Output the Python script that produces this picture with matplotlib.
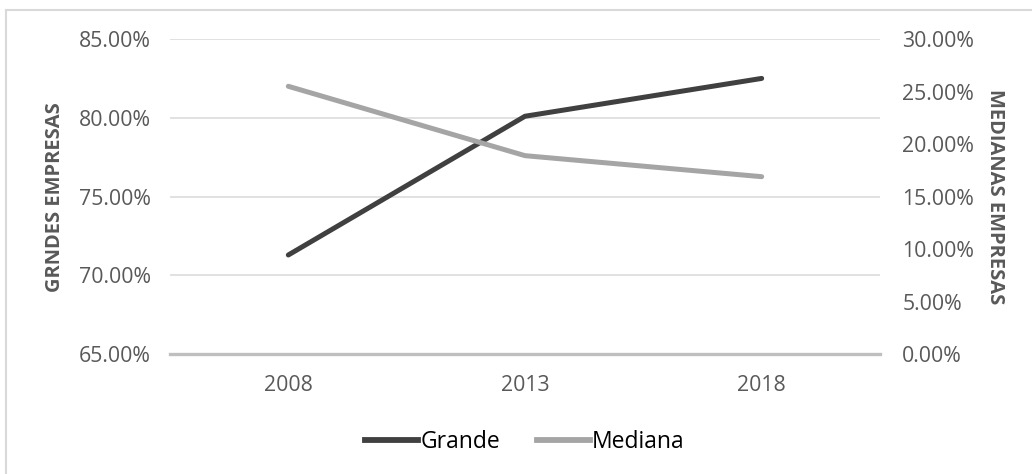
import matplotlib.pyplot as plt
from matplotlib.lines import Line2D
from matplotlib.ticker import PercentFormatter, MultipleLocator

# data
years = ["2008", "2013", "2018"]
grande = [71.3, 80.1, 82.5]      # % grandes empresas (left axis)
mediana = [25.5, 18.9, 16.9]     # % medianas empresas (right axis)

plt.rcParams['font.family'] = ['Open Sans', 'DejaVu Sans']

fig = plt.figure(figsize=(10.32, 4.74), dpi=100)
W, H = 1032, 474
ax = fig.add_axes([170 / W, 1 - 354.3 / H, 710 / W, (354.3 - 39) / H])
ax2 = ax.twinx()

x = range(len(years))
ax.plot(x, grande, color='#404040', lw=3.6, solid_capstyle='round', zorder=3)
ax2.plot(x, mediana, color='#a5a5a5', lw=3.6, solid_capstyle='round', zorder=3)

ax.set_xlim(-0.5, len(years) - 0.5)
ax.set_ylim(65, 85)
ax2.set_ylim(0, 30)
ax.yaxis.set_major_locator(MultipleLocator(5))
ax2.yaxis.set_major_locator(MultipleLocator(5))
ax.yaxis.set_major_formatter(PercentFormatter(decimals=2))
ax2.yaxis.set_major_formatter(PercentFormatter(decimals=2))
ax.set_xticks(list(x))
ax.set_xticklabels(years)

ax.grid(axis='y', color='#d9d9d9', lw=1.1)
ax.set_axisbelow(True)
for a in (ax, ax2):
    for s in a.spines.values():
        s.set_visible(False)
    a.tick_params(length=0, labelsize=15.3, labelcolor='#595959')
ax.tick_params(axis='y', pad=14)
ax2.tick_params(axis='y', pad=16)
ax.tick_params(axis='x', pad=15)
ax.axhline(65, color='#bfbfbf', lw=2.4, zorder=2, clip_on=False)

ax.set_ylabel("GRNDES EMPRESAS", fontsize=14.5, fontweight='bold', color='#595959',
              va='center')
ax2.set_ylabel("MEDIANAS EMPRESAS", fontsize=14.5, fontweight='bold', color='#595959',
               rotation=270, va='center')
ax.yaxis.set_label_coords(-0.162, 0.5)
ax2.yaxis.set_label_coords(1.162, 0.5)

handles = [Line2D([], [], color='#404040', lw=4.2),
           Line2D([], [], color='#a5a5a5', lw=4.2)]
fig.legend(handles, ["Grande", "Mediana"], loc='center', bbox_to_anchor=(525 / W, 1 - 442 / H),
           ncol=2, frameon=False, fontsize=16.5, handlelength=2.3, handletextpad=0.1,
           columnspacing=1.6)

# chart border (left and top edges)
fig.add_artist(Line2D([6 / W, 6 / W], [0, 1 - 10 / H], color='#d9d9d9', lw=1.5))
fig.add_artist(Line2D([6 / W, 1], [1 - 10 / H, 1 - 10 / H], color='#d9d9d9', lw=1.5))

fig.savefig("out.png", dpi=100)
